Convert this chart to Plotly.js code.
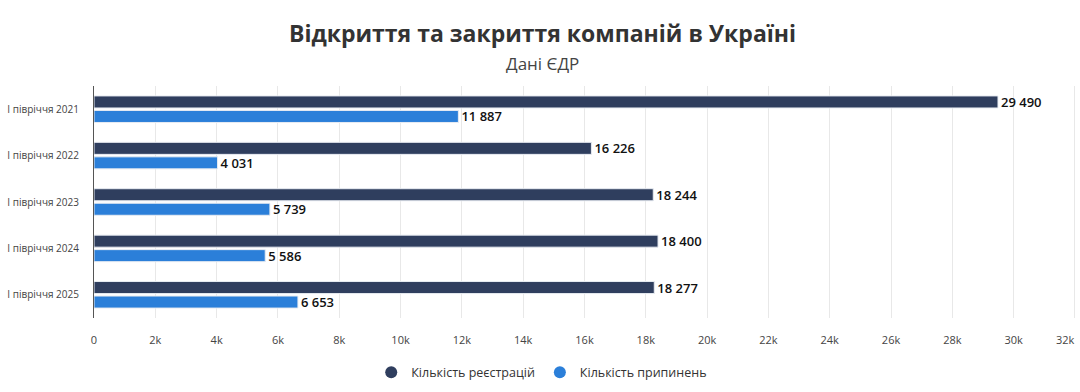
<!DOCTYPE html>
<html><head><meta charset="utf-8">
<script src="https://cdn.plot.ly/plotly-3.0.1.min.js"></script>
<style>html,body{margin:0;padding:0;background:#fff}#chart{width:1080px;height:392px}</style>
</head><body><div id="chart"></div>
<script>
const categories = ["I півріччя 2021","I півріччя 2022","I півріччя 2023","I півріччя 2024","I півріччя 2025"];
const registrations = [29490, 16226, 18244, 18400, 18277];
const closures = [11887, 4031, 5739, 5586, 6653];
const seriesNames = ["Кількість реєстрацій", "Кількість припинень"];
const colors = ["#2f3e5e", "#2b7fd9"];
const xTicks = [0,2000,4000,6000,8000,10000,12000,14000,16000,18000,20000,22000,24000,26000,28000,30000,32000];
const xTickLabels = ["0","2k","4k","6k","8k","10k","12k","14k","16k","18k","20k","22k","24k","26k","28k","30k","32k"];
const FONT = "Open Sans, Noto Sans, sans-serif";

const lastIdx = xTicks.length - 1;
const seriesValues = [registrations, closures];
const traces = seriesValues.map((vals, i) => ({
  type: "bar", orientation: "h", y: categories, x: vals, name: seriesNames[i],
  marker: {color: colors[i], line: {color: "#e8ecf2", width: 1}},
  texttemplate: "%{x:,}", textposition: "outside", cliponaxis: false, constraintext: "none",
  textfont: {family: FONT, size: 13, color: "#111", weight: 600},
  showlegend: false, hoverinfo: "x+y"
}));
seriesNames.forEach((n, i) => traces.push({
  type: "scatter", mode: "markers", x: [null], y: [null], name: n,
  marker: {color: colors[i], size: 14, symbol: "circle"}, showlegend: true
}));

const layout = {
  width: 1080, height: 392,
  margin: {l: 94, r: 2, t: 86, b: 74},
  paper_bgcolor: "#fff", plot_bgcolor: "#fff",
  separators: ". ",
  barmode: "group", bargap: 0.375, bargroupgap: 0.17,
  font: {family: FONT, size: 11, color: "#333"},
  xaxis: {range: [0, 32100], tickvals: xTicks,
    ticktext: xTickLabels.map((t, k) => k === lastIdx ? "" : t),
    showgrid: true, gridcolor: "#e8e8e8", gridwidth: 1, zeroline: false,
    showline: false, ticks: "", tickfont: {size: 11, color: "#444"}, ticklabelstandoff: 14, fixedrange: true},
  yaxis: {type: "category", range: [4.5, -0.5], autorange: false, showline: true, linecolor: "#555", linewidth: 1,
    ticks: "", tickfont: {size: 10, color: "#444"}, ticklabelstandoff: 12, showgrid: false},
  legend: {orientation: "h", x: 0.455, xanchor: "center", y: -0.235, yanchor: "middle",
    font: {size: 12.5, color: "#333"}, itemsizing: "constant", traceorder: "normal", itemwidth: 30},
  annotations: [
    {text: "<b>Відкриття та закриття компаній в Україні</b>", xref: "paper", yref: "paper", x: 0.4555, y: 1.228, yanchor: "middle", showarrow: false,
      font: {family: FONT, size: 23, color: "#333"}},
    {text: "Дані ЄДР", xref: "paper", yref: "paper", x: 0.4555, y: 1.099, yanchor: "middle", showarrow: false,
      font: {family: FONT, size: 17, color: "#444"}},
    {text: xTickLabels[lastIdx], xref: "x", yref: "paper", x: xTicks[lastIdx], y: 0, yanchor: "top", xanchor: "center",
      xshift: -9, yshift: -12, showarrow: false, font: {family: FONT, size: 11, color: "#444"}}
  ]
};
Plotly.newPlot("chart", traces, layout, {displayModeBar: false, staticPlot: true});
</script></body></html>
